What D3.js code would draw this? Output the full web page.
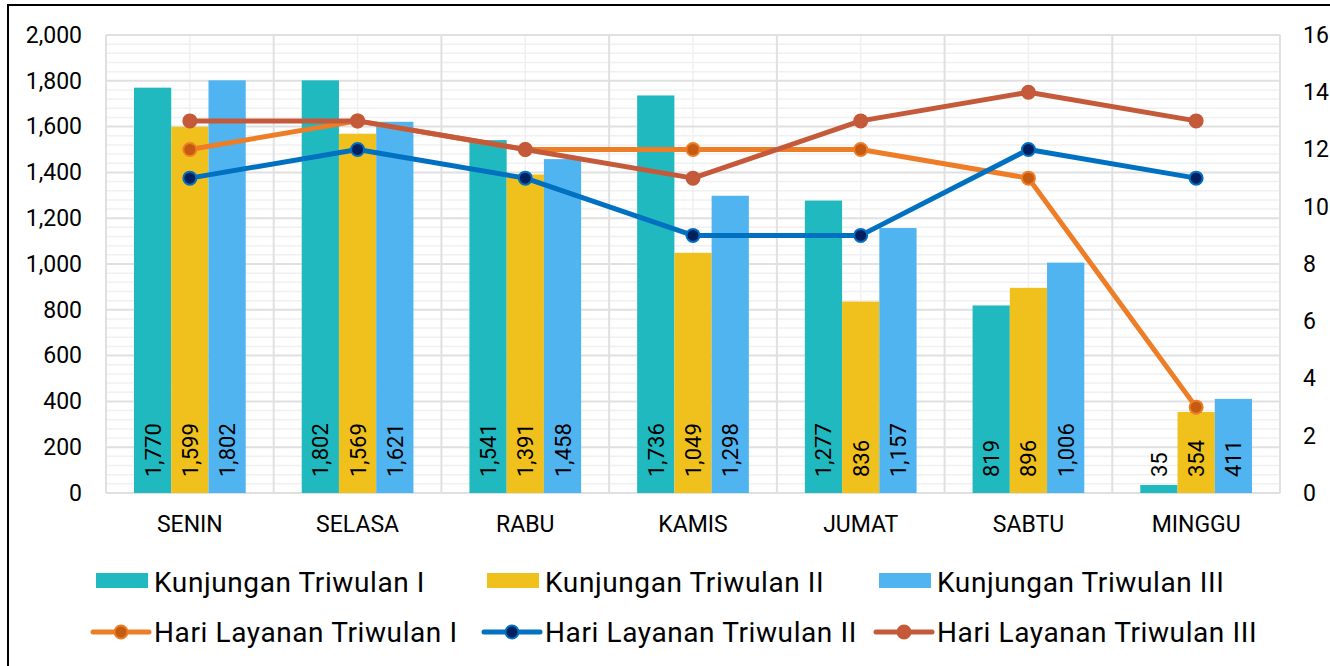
<!DOCTYPE html>
<html>
<head>
<meta charset="utf-8">
<script src="https://cdn.jsdelivr.net/npm/d3@7"></script>
<style>
  body { margin: 0; background: #fff; }
  text { font-family: Roboto, "DejaVu Sans", sans-serif; fill: #000; }
</style>
</head>
<body>
<div id="chart"></div>
<script>
// data
const days = ["SENIN", "SELASA", "RABU", "KAMIS", "JUMAT", "SABTU", "MINGGU"];
const kunjunganI = [1770, 1802, 1541, 1736, 1277, 819, 35];
const kunjunganII = [1599, 1569, 1391, 1049, 836, 896, 354];
const kunjunganIII = [1802, 1621, 1458, 1298, 1157, 1006, 411];
const hariI = [12, 13, 12, 12, 12, 11, 3];
const hariII = [11, 12, 11, 9, 9, 12, 11];
const hariIII = [13, 13, 12, 11, 13, 14, 13];
const leftTicks = [0, 200, 400, 600, 800, 1000, 1200, 1400, 1600, 1800, 2000];
const rightTicks = [0, 2, 4, 6, 8, 10, 12, 14, 16];

const barSeries = [
  { name: "Kunjungan Triwulan I", values: kunjunganI, color: "#20B9C0" },
  { name: "Kunjungan Triwulan II", values: kunjunganII, color: "#F0C11C" },
  { name: "Kunjungan Triwulan III", values: kunjunganIII, color: "#50B4F0" }
];
const lineSeries = [
  { name: "Hari Layanan Triwulan I", values: hariI, color: "#EE7D28", fill: "#C55A11" },
  { name: "Hari Layanan Triwulan II", values: hariII, color: "#0070C0", fill: "#002060" },
  { name: "Hari Layanan Triwulan III", values: hariIII, color: "#C45A3A", fill: "#C45A3A" }
];

const svgWidth = 1330, svgHeight = 666;
const margin = { top: 35, left: 106, right: 50, bottom: 173 };
const width = svgWidth - margin.left - margin.right;   // 1174
const height = svgHeight - margin.top - margin.bottom; // 458

const svg = d3.select("#chart").append("svg")
  .attr("width", svgWidth)
  .attr("height", svgHeight);

// outer frame
svg.append("rect")
  .attr("x", 8).attr("y", 5)
  .attr("width", svgWidth).attr("height", svgHeight)
  .attr("fill", "none").attr("stroke", "#000").attr("stroke-width", 2);

const g = svg.append("g").attr("transform", `translate(${margin.left},${margin.top})`);

// scales
const x0 = d3.scaleBand().domain(days).range([0, width]);
const x1 = d3.scaleBand().domain(d3.range(3)).range([28, x0.bandwidth() - 28]);
const yLeft = d3.scaleLinear().domain([0, 2000]).range([height, 0]);
const yRight = d3.scaleLinear().domain([0, 16]).range([height, 0]);

// minor grid
g.append("g").selectAll("line")
  .data(d3.range(0, 2001, 40).filter(v => v % 200 !== 0))
  .join("line")
  .attr("x1", 0).attr("x2", width)
  .attr("y1", d => yLeft(d)).attr("y2", d => yLeft(d))
  .attr("stroke", "#F0F0F0").attr("stroke-width", 1.5);

g.append("g").selectAll("line")
  .data(days)
  .join("line")
  .attr("x1", d => x0(d) + x0.bandwidth() / 2).attr("x2", d => x0(d) + x0.bandwidth() / 2)
  .attr("y1", 0).attr("y2", height)
  .attr("stroke", "#F0F0F0").attr("stroke-width", 1.5);

// major grid
g.append("g").selectAll("line")
  .data(leftTicks)
  .join("line")
  .attr("x1", 0).attr("x2", width)
  .attr("y1", d => yLeft(d)).attr("y2", d => yLeft(d))
  .attr("stroke", "#E0E0E0").attr("stroke-width", 2);

g.append("g").selectAll("line")
  .data(days.concat(["end"]))
  .join("line")
  .attr("x1", (d, i) => i * x0.step()).attr("x2", (d, i) => i * x0.step())
  .attr("y1", 0).attr("y2", height)
  .attr("stroke", "#E0E0E0").attr("stroke-width", 2);

// axes (text only)
const leftAxis = g.append("g").call(d3.axisLeft(yLeft).tickValues(leftTicks).tickFormat(d3.format(",")).tickSize(0).tickPadding(24));
leftAxis.select(".domain").remove();
leftAxis.selectAll("text").style("font-size", "23px").style("font-family", "Roboto");

const rightAxis = g.append("g").attr("transform", `translate(${width},0)`)
  .call(d3.axisRight(yRight).tickValues(rightTicks).tickSize(0).tickPadding(23));
rightAxis.select(".domain").remove();
rightAxis.selectAll("text").style("font-size", "23px").style("font-family", "Roboto");

const bottomAxis = g.append("g").attr("transform", `translate(0,${height})`)
  .call(d3.axisBottom(x0).tickSize(0).tickPadding(23));
bottomAxis.select(".domain").remove();
bottomAxis.selectAll("text").style("font-size", "23px").style("font-family", "Roboto");

// bars
barSeries.forEach((s, si) => {
  g.append("g").selectAll("rect")
    .data(s.values)
    .join("rect")
    .attr("x", (d, i) => x0(days[i]) + x1(si))
    .attr("y", d => yLeft(d))
    .attr("width", x1.bandwidth())
    .attr("height", d => height - yLeft(d))
    .attr("fill", s.color);
});

// bar labels
barSeries.forEach((s, si) => {
  g.append("g").selectAll("text")
    .data(s.values)
    .join("text")
    .attr("transform", (d, i) => `translate(${x0(days[i]) + x1(si) + x1.bandwidth() / 2 + 8},${height - 16}) rotate(-90)`)
    .attr("text-anchor", "start")
    .style("font-size", "22px")
    .text(d => d3.format(",")(d));
});

// lines
const line = d3.line()
  .x((d, i) => x0(days[i]) + x0.bandwidth() / 2)
  .y(d => yRight(d));

lineSeries.forEach(s => {
  g.append("path")
    .datum(s.values)
    .attr("d", line)
    .attr("fill", "none")
    .attr("stroke", s.color)
    .attr("stroke-width", 5)
    .attr("stroke-linejoin", "round");
  g.append("g").selectAll("circle")
    .data(s.values)
    .join("circle")
    .attr("cx", (d, i) => x0(days[i]) + x0.bandwidth() / 2)
    .attr("cy", d => yRight(d))
    .attr("r", 6.5)
    .attr("fill", s.fill)
    .attr("stroke", s.color)
    .attr("stroke-width", 2);
});

// legend
const legendX = [96, 487, 879];
barSeries.forEach((s, i) => {
  svg.append("rect")
    .attr("x", legendX[i]).attr("y", 573)
    .attr("width", 52).attr("height", 15)
    .attr("fill", s.color);
  svg.append("text")
    .attr("x", legendX[i] + 58).attr("y", 592)
    .style("font-size", "28px")
    .style("letter-spacing", "0.6px")
    .text(s.name);
});
lineSeries.forEach((s, i) => {
  svg.append("line")
    .attr("x1", legendX[i] - 3).attr("x2", legendX[i] + 53)
    .attr("y1", 632).attr("y2", 632)
    .attr("stroke", s.color).attr("stroke-width", 5)
    .attr("stroke-linecap", "round");
  svg.append("circle")
    .attr("cx", legendX[i] + 25).attr("cy", 632)
    .attr("r", 6.5)
    .attr("fill", s.fill)
    .attr("stroke", s.color).attr("stroke-width", 2);
  svg.append("text")
    .attr("x", legendX[i] + 58).attr("y", 642)
    .style("font-size", "28px")
    .style("letter-spacing", "0.6px")
    .text(s.name);
});
</script>
</body>
</html>
